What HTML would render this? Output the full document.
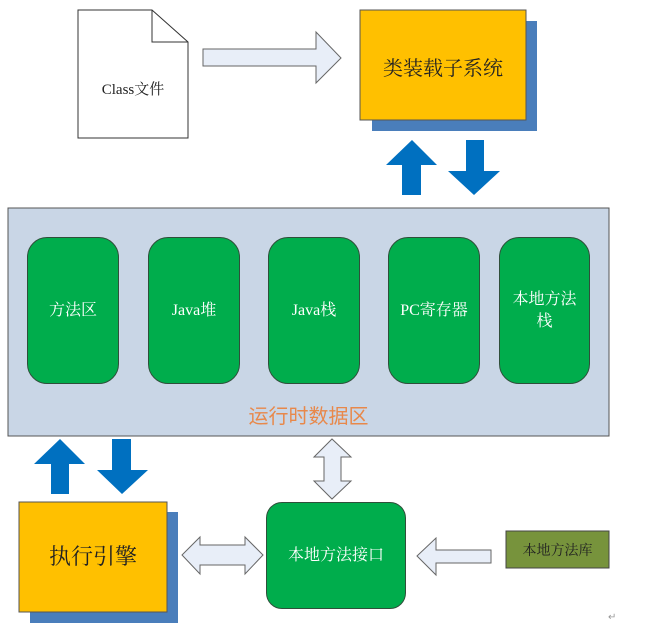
<!DOCTYPE html>
<html><head><meta charset="utf-8"><style>
body{margin:0;background:#fff;width:670px;height:630px;overflow:hidden;position:relative;font-family:"Liberation Serif","Noto Serif CJK SC",serif}
.a{position:absolute;box-sizing:border-box}
.g{background:#00ad4c;border:1px solid #2f4f3a;border-radius:20px;color:#fff;font-size:16px;display:flex;align-items:center;justify-content:center;text-align:center;line-height:22px}
</style></head><body>
<svg class="a" style="left:0;top:0" width="670" height="630">
<path d="M78 10 H152 L188 42 V138 H78 Z" fill="#fff" stroke="#333"/>
<path d="M152 10 V42 H188" fill="none" stroke="#333"/>
<path d="M203 49 H316 V32 L341 58 L316 83 V66 H203 Z" fill="#e8eef8" stroke="#666"/>
<rect x="372" y="21" width="165" height="110" fill="#4a7ebb"/>
<rect x="360" y="10" width="166" height="110" fill="#ffc000" stroke="#555"/>
<path d="M402 195 V165 H386 L412 140 L437 165 H421 V195 Z" fill="#0070c0"/>
<path d="M466 140 H484 V171 H500 L474 195 L448 171 H466 Z" fill="#0070c0"/>
<rect x="8" y="208" width="601" height="228" fill="#c9d6e6" stroke="#555"/>
<path d="M51 494 V464 H34 L60 439 L85 464 H69 V494 Z" fill="#0070c0"/>
<path d="M112 439 H131 V470 H148 L122 494 L97 470 H112 Z" fill="#0070c0"/>
<path d="M324 457 H314 L332 439 L351 457 H341 V481 H351 L332 499 L314 481 H324 Z" fill="#e8eef8" stroke="#666"/>
<rect x="30" y="512" width="148" height="111" fill="#4a7ebb"/>
<rect x="19" y="502" width="148" height="110" fill="#ffc000" stroke="#555"/>
<path d="M200 545 V537 L182 555 L200 574 V565 H245 V574 L263 555 L245 537 V545 Z" fill="#e8eef8" stroke="#666"/>
<path d="M417 556 L436 538 V550 H491 V563 H436 V575 Z" fill="#e8eef8" stroke="#666"/>
<rect x="506" y="531" width="103" height="37" fill="#77933c" stroke="#444"/>
</svg>
<div class="a" style="left:78px;top:78px;width:110px;text-align:center;font-size:15px;color:#222">Class文件</div>
<div class="a" style="left:360px;top:52px;width:166px;text-align:center;font-size:20px;color:#222">类装载子系统</div>
<div class="a g" style="left:27px;top:237px;width:92px;height:147px">方法区</div>
<div class="a g" style="left:148px;top:237px;width:92px;height:147px">Java堆</div>
<div class="a g" style="left:268px;top:237px;width:92px;height:147px">Java栈</div>
<div class="a g" style="left:388px;top:237px;width:92px;height:147px">PC寄存器</div>
<div class="a g" style="left:499px;top:237px;width:91px;height:147px;padding:0 8px">本地方法栈</div>
<div class="a" style="left:8px;top:400px;width:601px;text-align:center;font-size:20px;color:#e8884a;font-family:'Liberation Sans','Noto Sans CJK SC',sans-serif">运行时数据区</div>
<div class="a" style="left:19px;top:540px;width:148px;text-align:center;font-size:22px;color:#222">执行引擎</div>
<div class="a g" style="left:266px;top:502px;width:140px;height:107px;border-radius:16px">本地方法接口</div>
<div class="a" style="left:506px;top:540px;width:103px;text-align:center;font-size:14px;color:#222">本地方法库</div>
<div class="a" style="left:608px;top:612px;font-size:10px;color:#999">↵</div>
</body></html>
